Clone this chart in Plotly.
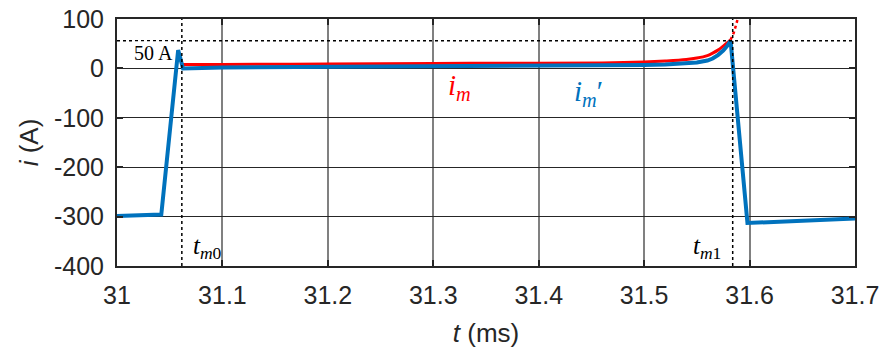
import plotly.graph_objects as go

# blue i_m'
t_blue = [31.0, 31.042, 31.058, 31.0626, 31.1, 31.2, 31.3, 31.4, 31.46, 31.5, 31.52, 31.54, 31.55, 31.56, 31.565,
          31.57, 31.575, 31.579, 31.582, 31.598, 31.7]
i_blue = [-299, -296, 37, 0, 2, 3, 4, 5, 5, 7, 8, 10, 12, 16, 20, 27, 36, 46, 56, -313, -304]
# red i_m (solid)
t_red = [31.0626, 31.1, 31.2, 31.3, 31.4, 31.46, 31.5, 31.52, 31.54, 31.55, 31.56, 31.565, 31.57, 31.575, 31.579, 31.582]
i_red = [8, 8, 9, 10, 10.5, 11, 13, 15, 18, 21, 26, 31, 37, 45, 52, 58]
# red extrapolated (dotted)
t_red_ext = [31.582, 31.585, 31.588, 31.590]
i_red_ext = [58, 72, 94, 115]

t_m0 = 31.0615
t_m1 = 31.584
level_50 = 56

y_ticks = [-400, -300, -200, -100, 0, 100]
y_ticktext = ["-400", "-300", "-200", "-100", "0", "100"]
x_ticks = [31.0, 31.1, 31.2, 31.3, 31.4, 31.5, 31.6, 31.7]
x_ticktext = ["31", "31.1", "31.2", "31.3", "31.4", "31.5", "31.6", "31.7"]

fig = go.Figure()
fig.add_trace(go.Scatter(x=t_red_ext, y=i_red_ext, mode="lines",
                         line=dict(color="#ff0000", width=2.5, dash="dot"), showlegend=False))
fig.add_trace(go.Scatter(x=t_red, y=i_red, mode="lines", line_shape="spline",
                         line=dict(color="#ff0000", width=3), showlegend=False))
fig.add_trace(go.Scatter(x=t_blue, y=i_blue, mode="lines",
                         line=dict(color="#0072bd", width=4), showlegend=False))

dot = dict(color="black", width=1.5, dash="dot")
fig.add_shape(type="line", xref="x", yref="y", x0=31.0, x1=31.7, y0=level_50, y1=level_50, line=dot)
fig.add_shape(type="line", xref="x", yref="y", x0=t_m0, x1=t_m0, y0=-400, y1=100, line=dot)
fig.add_shape(type="line", xref="x", yref="y", x0=t_m1, x1=t_m1, y0=-400, y1=100, line=dot)

serif = "Liberation Serif"
fig.add_annotation(x=31.0345, y=32, text="50 A", showarrow=False, bgcolor="white",
                   font=dict(family=serif, size=20, color="black"), borderpad=0)
fig.add_annotation(x=31.0855, y=-362, text="<i>t</i><sub><i>m</i>0</sub>", showarrow=False,
                   font=dict(family=serif, size=25, color="black"))
fig.add_annotation(x=31.5595, y=-362, text="<i>t</i><sub><i>m</i>1</sub>", showarrow=False,
                   font=dict(family=serif, size=25, color="black"))
fig.add_annotation(x=31.325, y=-38, text="<i>i</i><sub><i>m</i></sub>", showarrow=False,
                   font=dict(family=serif, size=29, color="#ff0000"))
fig.add_annotation(x=31.447, y=-50, text="<i>i</i><sub><i>m</i></sub>′", showarrow=False,
                   font=dict(family=serif, size=29, color="#0072bd"))

fig.update_layout(
    width=883, height=363,
    margin=dict(l=117, r=28, t=19, b=97),
    paper_bgcolor="white", plot_bgcolor="white",
    font=dict(family="Liberation Sans, Arial", size=25, color="#262626"),
    xaxis=dict(range=[31.0, 31.7], tickvals=x_ticks, ticktext=x_ticktext,
               showgrid=True, gridcolor="#808080", gridwidth=1.5,
               showline=True, linecolor="#262626", linewidth=2, mirror="ticks",
               ticks="inside", ticklen=6, tickwidth=2, tickcolor="#262626",
               zeroline=False, ticklabelstandoff=6, automargin=False,
               title=dict(text="<i>t</i> (ms)", font=dict(size=26), standoff=16)),
    yaxis=dict(range=[-400, 100], tickvals=y_ticks, ticktext=y_ticktext,
               showgrid=True, gridcolor="#262626", gridwidth=1,
               showline=True, linecolor="#262626", linewidth=2, mirror="ticks",
               ticks="inside", ticklen=6, tickwidth=2, tickcolor="#262626",
               zeroline=False, ticklabelstandoff=6, automargin=False,
               title=dict(text="<i>i</i> (A)", font=dict(size=26), standoff=8)),
)

fig.write_html("out.html")
